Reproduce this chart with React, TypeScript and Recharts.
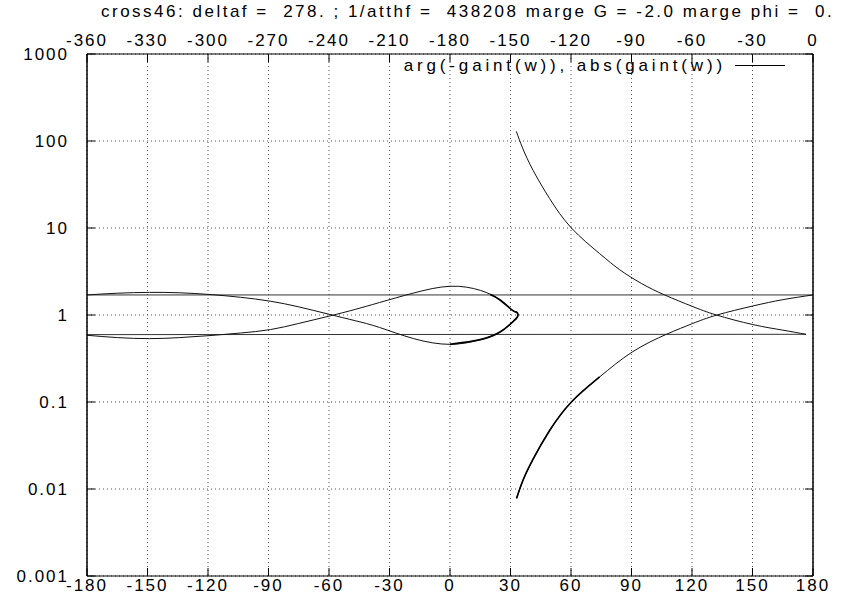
import { ComposedChart, Line, XAxis, YAxis, CartesianGrid } from "recharts";

const FONT = '"Liberation Sans", Arial, Helvetica, sans-serif';

const title = "cross46: deltaf =  278. ; 1/atthf =  438208 marge G = -2.0 marge phi =  0.";
const legendLabel = "arg(-gaint(w)), abs(gaint(w))";

const phaseTicks = [-180, -150, -120, -90, -60, -30, 0, 30, 60, 90, 120, 150, 180];
const phaseTopTicks = [-360, -330, -300, -270, -240, -210, -180, -150, -120, -90, -60, -30, 0];
const gainTicks = [0.001, 0.01, 0.1, 1, 10, 100, 1000];
const gainMinorTicks = [
  0.002, 0.005, 0.008, 0.02, 0.05, 0.08, 0.2, 0.5, 0.8,
  2, 5, 8, 20, 50, 80, 200, 500, 800,
];

// loop on the left, in drawing order (upper left -> tip -> back to lower left)
const loopPhase = [
  -180, -165, -149, -134, -119, -104, -89, -75, -60, -47, -35, -18, 0, 15, 25, 31, 33, 33.7,
  33, 31, 25, 15, 0, -18, -35, -47, -60, -75, -89, -104, -119, -134, -149, -165, -180,
];
const loopGain = [
  1.7, 1.78, 1.82, 1.8, 1.72, 1.6, 1.44, 1.24, 1.02, 0.86, 0.72, 0.535, 0.46, 0.52, 0.64, 0.83, 0.92, 1.0,
  1.08, 1.13, 1.48, 1.92, 2.14, 1.79, 1.39, 1.16, 0.97, 0.8, 0.68, 0.62, 0.58, 0.55, 0.535, 0.55, 0.585,
];

// dense part round the tip, drawn heavier
const tipPhase = [0, 15, 25, 31, 33, 33.7, 33, 31, 25, 20];
const tipGain = [0.46, 0.52, 0.64, 0.83, 0.92, 1.0, 1.08, 1.13, 1.48, 1.72];

// right branch falling from the top
const fallPhase = [32.9, 36, 41.2, 49.4, 60.2, 74.2, 84.1, 95, 106.4, 120, 132.1, 150.2, 165, 176.5];
const fallGain = [129, 83, 46, 21.8, 10, 5.08, 3.32, 2.3, 1.7, 1.26, 1.0, 0.776, 0.67, 0.6];

// right branch rising from the bottom
const risePhase = [33, 36.2, 41.2, 49.4, 60.2, 74.2, 90.4, 107.3, 120.2, 132.4, 150.2, 165, 180];
const riseGain = [0.0078, 0.0126, 0.022, 0.047, 0.1, 0.194, 0.376, 0.6, 0.796, 1.0, 1.27, 1.5, 1.7];
const riseThickPhase = [33, 36.2, 41.2, 49.4, 60.2, 74.2];
const riseThickGain = [0.0078, 0.0126, 0.022, 0.047, 0.1, 0.194];

// wrap-around segments at +/-180 (upper one given on the top phase axis, -360..0)
const wrapUpperPhase = [-360, 0];
const wrapUpperGain = [1.7, 1.7];
const wrapLowerPhase = [-180, 176.5];
const wrapLowerGain = [0.595, 0.6];

const toPoints = (xs: number[], ys: number[]) => xs.map((x, i) => ({ x, y: ys[i] }));

const tickStyle = { fontFamily: FONT, fontSize: 17, fill: "#000", style: { letterSpacing: "2px" } };
const noLabel = () => "";

export default function App() {
  return (
    <div style={{ position: "absolute", left: 0, top: 0, width: 845, height: 594, background: "#fff" }}>
      <div
        style={{
          position: "absolute",
          left: 101,
          top: 2,
          fontFamily: FONT,
          fontSize: 17,
          letterSpacing: "2.5px",
          whiteSpace: "pre",
          color: "#000",
        }}
      >
        {title}
      </div>
      <div
        style={{
          position: "absolute",
          right: 119,
          top: 56,
          fontFamily: FONT,
          fontSize: 17,
          letterSpacing: "3.85px",
          whiteSpace: "pre",
          color: "#000",
          zIndex: 2,
        }}
      >
        {legendLabel}
      </div>
      <div style={{ position: "absolute", left: 735, top: 65, width: 50, height: 1, background: "#000", zIndex: 2 }} />
      <ComposedChart width={845} height={594} margin={{ top: 30, right: 31, bottom: 0, left: 0 }}>
        <CartesianGrid
          stroke="#555"
          strokeDasharray="1 3"
          verticalValues={phaseTicks}
          horizontalValues={gainTicks}
        />
        <XAxis
          type="number"
          dataKey="x"
          domain={[-180, 180]}
          ticks={phaseTicks}
          allowDataOverflow
          height={18}
          stroke="#000"
          tickSize={-8}
          tickMargin={11}
          tick={tickStyle}
          interval={0}
        />
        <XAxis
          xAxisId="top"
          orientation="top"
          type="number"
          dataKey="x"
          domain={[-360, 0]}
          ticks={phaseTopTicks}
          allowDataOverflow
          height={24}
          stroke="#000"
          tickSize={-8}
          tickMargin={16}
          tick={tickStyle}
          interval={0}
        />
        <YAxis
          type="number"
          scale="log"
          domain={[0.001, 1000]}
          ticks={gainTicks}
          allowDataOverflow
          width={87}
          stroke="#000"
          axisLine={{ stroke: "#000", strokeWidth: 1.5 }}
          tickSize={-8}
          tickMargin={26}
          tick={tickStyle}
          interval={0}
        />
        <YAxis
          yAxisId="minorLeft"
          type="number"
          scale="log"
          domain={[0.001, 1000]}
          ticks={gainMinorTicks}
          allowDataOverflow
          width={0}
          stroke="#000"
          axisLine={false}
          tickSize={-4}
          tickFormatter={noLabel}
          interval={0}
        />
        <YAxis
          yAxisId="right"
          orientation="right"
          type="number"
          scale="log"
          domain={[0.001, 1000]}
          ticks={gainTicks}
          allowDataOverflow
          width={1}
          stroke="#000"
          axisLine={{ stroke: "#000", strokeWidth: 1.5 }}
          tickSize={-8}
          tickFormatter={noLabel}
          interval={0}
        />
        <Line xAxisId="top" yAxisId="right" data={toPoints(wrapUpperPhase, wrapUpperGain)} dataKey="y" type="linear" stroke="#333" strokeWidth={1} dot={false} isAnimationActive={false} />
        <Line data={toPoints(wrapLowerPhase, wrapLowerGain)} dataKey="y" type="linear" stroke="#333" strokeWidth={1} dot={false} isAnimationActive={false} />
        <Line data={toPoints(loopPhase, loopGain)} dataKey="y" type="natural" stroke="#111" strokeWidth={1} dot={false} isAnimationActive={false} />
        <Line data={toPoints(tipPhase, tipGain)} dataKey="y" type="natural" stroke="#000" strokeWidth={1.8} dot={false} isAnimationActive={false} />
        <Line data={toPoints(fallPhase, fallGain)} dataKey="y" type="natural" stroke="#111" strokeWidth={1} dot={false} isAnimationActive={false} />
        <Line data={toPoints(risePhase, riseGain)} dataKey="y" type="natural" stroke="#111" strokeWidth={1} dot={false} isAnimationActive={false} />
        <Line data={toPoints(riseThickPhase, riseThickGain)} dataKey="y" type="natural" stroke="#000" strokeWidth={1.7} dot={false} isAnimationActive={false} />
      </ComposedChart>
    </div>
  );
}
